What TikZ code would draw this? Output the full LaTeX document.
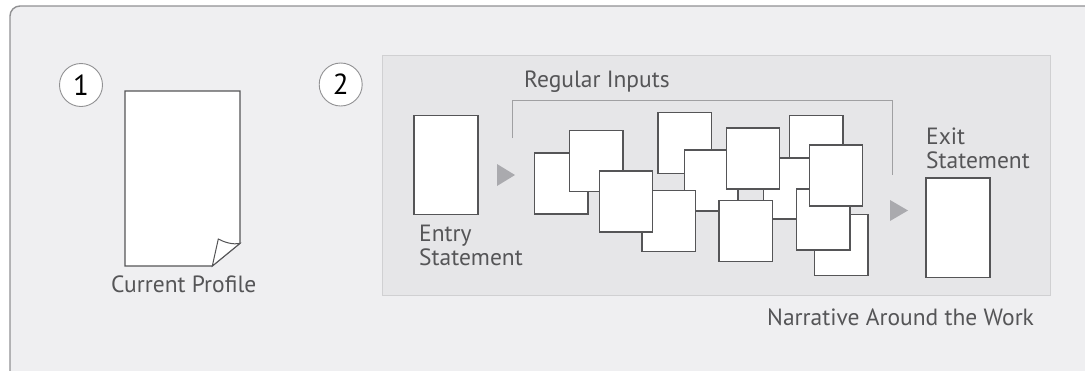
\documentclass[tikz,border=0pt]{standalone}
\usepackage{fontspec}
\setmainfont{PT Sans}
\definecolor{outerbg}{RGB}{239,239,241}
\definecolor{outerline}{RGB}{145,145,147}
\definecolor{panelbg}{RGB}{230,230,232}
\definecolor{panelline}{RGB}{208,208,210}
\definecolor{boxline}{RGB}{85,85,87}
\definecolor{bracketline}{RGB}{160,160,162}
\definecolor{arrowfill}{RGB}{170,170,174}
\definecolor{txt}{RGB}{85,85,87}
\begin{document}
\begin{tikzpicture}[x=1pt,y=-1pt,
  sheet/.style={draw=boxline,fill=white,line width=1.2pt,anchor=north west,inner sep=0pt,
    minimum width=53.3pt,minimum height=61pt},
  tallsheet/.style={draw=boxline,fill=white,line width=1.2pt,anchor=north west,inner sep=0pt,
    minimum width=64pt,minimum height=99.5pt},
  lbl/.style={text=txt,anchor=base west,inner sep=0pt,font=\fontsize{23.5}{24}\selectfont},
  numcirc/.style={circle,draw=outerline,fill=white,line width=0.9pt,minimum size=43pt,inner sep=0pt,
    font=\fontsize{29}{29}\selectfont,text=black},
  tri/.style={fill=arrowfill,draw=none}]
\useasboundingbox (0,0) rectangle (1085,370);
\begin{scope}
\clip (0,0) rectangle (1085,370);
\draw[fill=outerbg,draw=outerline,line width=1.4pt,rounded corners=10pt] (10,6) rectangle (1100,385);
\end{scope}
% inner panel
\draw[fill=panelbg,draw=panelline,line width=1pt] (382,55) rectangle (1050,295.3);
% numbers
\node[numcirc] (n1) at (81,85) {1};
\node[numcirc] (n2) at (340.7,84.5) {2};
% current profile page
\draw[fill=white,draw=boxline,line width=1.2pt] (125,91) -- (240,91) -- (240,243.3) -- (212.3,266) -- (125,266) -- cycle;
\draw[fill=white,draw=boxline,line width=1pt] (212.3,266) -- (218.3,239) .. controls (224,242) and (232,245) .. (240,243.3) -- cycle;
\node[lbl] (cp) at (111,292.7) {Current Profile};
% entry
\node[tallsheet] (entry) at (413.3,114.7) {};
\node[lbl] (entrylbl) at (419,241.7) {Entry};
\node[lbl] (entrylbl2) at (419,265) {Statement};
% arrow 1
\path[tri] (497,164) -- (515,175) -- (497,186) -- cycle;
% bracket
\coordinate (bl) at (512.7,138);
\coordinate (br) at (892,175);
\draw[draw=bracketline,line width=1pt] (bl) -- (512.7,100) -- (892,100) -- (br);
\node[lbl] (reg) at (524,87.7) {Regular Inputs};
% stacked sheets, back to front
\node[sheet] (A) at (534,152.3) {};
\node[sheet] (B) at (569,130) {};
\node[sheet] (E) at (657.3,111.7) {};
\node[sheet] (F) at (684,149.3) {};
\node[sheet] (D) at (641.3,190) {};
\node[sheet] (C) at (598.7,170.3) {};
\node[sheet] (J) at (789,114.7) {};
\node[sheet] (I) at (762.7,157.3) {};
\node[sheet] (G) at (725.7,127.3) {};
\node[sheet] (H) at (718.3,200) {};
\node[sheet] (L) at (814,214) {};
\node[sheet] (K) at (796,188.3) {};
\node[sheet] (M) at (808.7,144.3) {};
% arrow 2
\path[tri] (890,200) -- (908,210.5) -- (890,221) -- cycle;
% exit
\node[lbl] (exitlbl) at (926,144.3) {Exit};
\node[lbl] (exitlbl2) at (926,168.3) {Statement};
\node[tallsheet] (exit) at (925.3,177.3) {};
% narrative
\node[lbl] (narr) at (767,325.7) {Narrative Around the Work};
\end{tikzpicture}
\end{document}
